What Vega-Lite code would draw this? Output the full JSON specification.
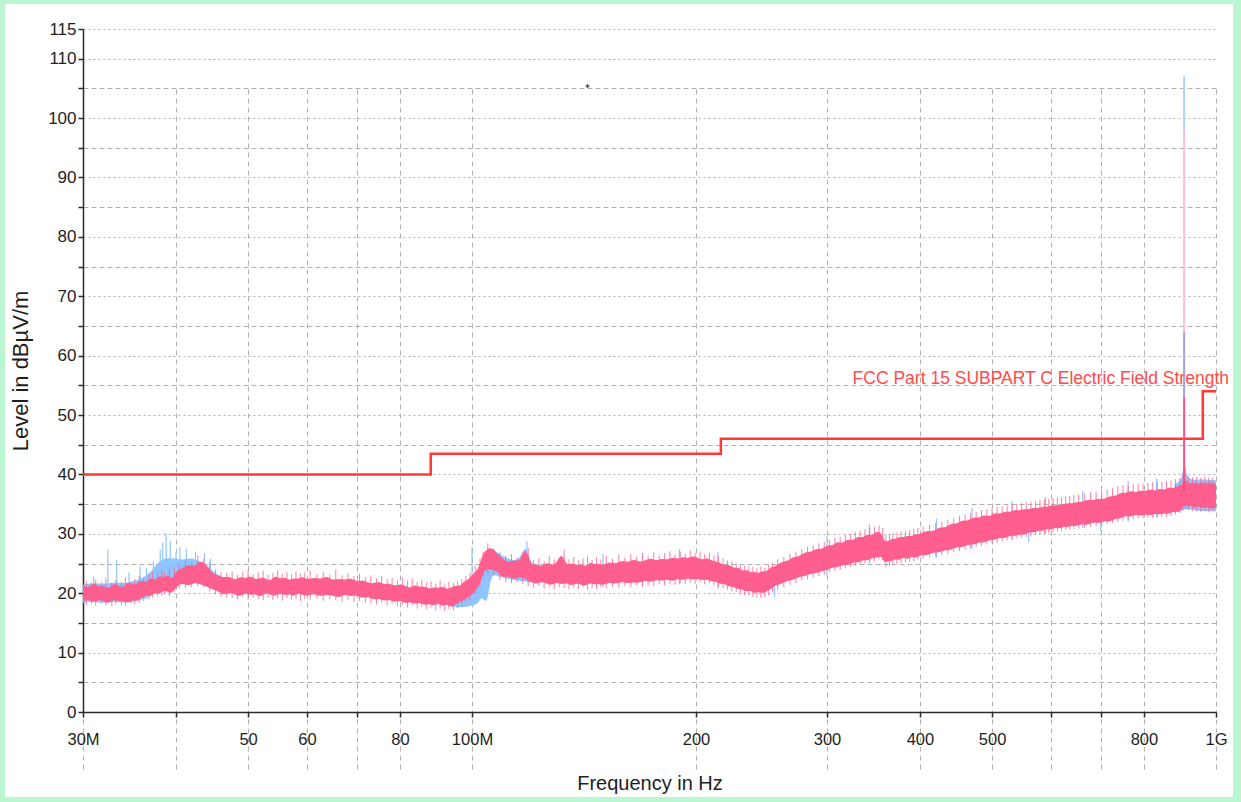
{
  "$schema": "https://vega.github.io/schema/vega-lite/v6.json",
  "width": 1228,
  "height": 793,
  "autosize": {"type": "none"},
  "padding": {"left": 5, "top": 4, "right": 8, "bottom": 5},
  "background": "#b9f6d1",
  "config": {
    "view": {"fill": "white", "stroke": null},
    "axis": {
      "labelFont": "Liberation Sans, Arial, sans-serif",
      "titleFont": "Liberation Sans, Arial, sans-serif",
      "labelColor": "#1e1e1e",
      "titleColor": "#1e1e1e",
      "titleFontWeight": "normal",
      "domainColor": "#2a2a2a",
      "domainWidth": 1.5,
      "tickColor": "#2a2a2a",
      "tickWidth": 1.5,
      "tickSize": 5,
      "gridColor": "#b0b0b0",
      "gridWidth": 1
    }
  },
  "datasets": {
    "pink": [
      {"f":30,"dB":18.6,"dB2":21.4},{"f":30.5,"dB":19.0,"dB2":20.8},{"f":31,"dB":18.4,"dB2":21.9},{"f":31.5,"dB":18.9,"dB2":21.0},
      {"f":32,"dB":18.7,"dB2":21.3},{"f":32.5,"dB":18.2,"dB2":20.7},{"f":33,"dB":19.1,"dB2":21.8},{"f":33.5,"dB":18.5,"dB2":21.2},
      {"f":34,"dB":18.8,"dB2":20.9},{"f":34.5,"dB":18.3,"dB2":22.1},{"f":35,"dB":19.0,"dB2":21.3},{"f":35.5,"dB":18.6,"dB2":21.7},
      {"f":36,"dB":19.3,"dB2":22.3},{"f":36.5,"dB":19.7,"dB2":21.6},{"f":37,"dB":19.4,"dB2":22.8},{"f":37.5,"dB":20.1,"dB2":22.0},
      {"f":38,"dB":19.8,"dB2":23.1},{"f":38.5,"dB":20.5,"dB2":22.5},{"f":39,"dB":20.2,"dB2":23.3},{"f":39.5,"dB":19.9,"dB2":22.1},
      {"f":40,"dB":21.0,"dB2":23.8},{"f":40.8,"dB":21.8,"dB2":24.2},{"f":41.6,"dB":21.1,"dB2":24.9},{"f":42.4,"dB":21.9,"dB2":24.4},
      {"f":43.2,"dB":21.5,"dB2":25.7},{"f":44.0,"dB":21.2,"dB2":24.6},{"f":44.8,"dB":20.6,"dB2":23.3},{"f":45.6,"dB":20.4,"dB2":23.0},
      {"f":46.4,"dB":19.6,"dB2":22.6},{"f":47.2,"dB":20.2,"dB2":22.9},{"f":48.0,"dB":19.8,"dB2":22.1},{"f":48.8,"dB":19.4,"dB2":22.9},
      {"f":49.6,"dB":20.1,"dB2":22.4},{"f":50.4,"dB":19.6,"dB2":23.0},{"f":51.2,"dB":19.9,"dB2":22.2},{"f":52.0,"dB":19.3,"dB2":22.7},
      {"f":52.8,"dB":20.1,"dB2":22.5},{"f":53.6,"dB":19.7,"dB2":22.0},{"f":54.4,"dB":19.5,"dB2":23.1},{"f":55.2,"dB":20.0,"dB2":22.3},
      {"f":56.0,"dB":19.6,"dB2":22.8},{"f":56.8,"dB":19.9,"dB2":22.1},{"f":57.6,"dB":19.4,"dB2":22.6},{"f":58.4,"dB":20.1,"dB2":22.3},
      {"f":59.2,"dB":19.7,"dB2":22.9},{"f":60.0,"dB":19.5,"dB2":22.2},{"f":61.25,"dB":20.0,"dB2":22.7},{"f":62.5,"dB":19.4,"dB2":22.3},
      {"f":63.75,"dB":19.8,"dB2":23.0},{"f":65,"dB":19.6,"dB2":22.1},{"f":66.25,"dB":19.2,"dB2":22.5},{"f":67.5,"dB":19.9,"dB2":22.2},
      {"f":68.75,"dB":19.4,"dB2":22.6},{"f":70,"dB":19.7,"dB2":21.9},{"f":71.25,"dB":19.1,"dB2":22.3},{"f":72.5,"dB":19.5,"dB2":21.8},
      {"f":73.75,"dB":18.8,"dB2":21.6},{"f":75,"dB":19.2,"dB2":22.0},{"f":76.25,"dB":18.6,"dB2":21.4},{"f":77.5,"dB":19.0,"dB2":21.7},
      {"f":78.75,"dB":18.4,"dB2":21.2},{"f":80,"dB":18.9,"dB2":21.6},{"f":81.25,"dB":18.2,"dB2":21.3},{"f":82.5,"dB":18.6,"dB2":20.8},
      {"f":83.75,"dB":18.1,"dB2":21.5},{"f":85,"dB":18.5,"dB2":21.0},{"f":86.25,"dB":17.9,"dB2":21.2},{"f":87.5,"dB":18.3,"dB2":20.7},
      {"f":88.75,"dB":17.8,"dB2":21.1},{"f":90,"dB":18.4,"dB2":20.8},{"f":91.25,"dB":17.7,"dB2":21.2},{"f":92.5,"dB":18.2,"dB2":20.6},
      {"f":93.75,"dB":17.6,"dB2":21.0},{"f":95,"dB":18.1,"dB2":21.3},{"f":96.25,"dB":18.5,"dB2":21.1},{"f":97.5,"dB":18.8,"dB2":22.0},
      {"f":98.75,"dB":19.4,"dB2":22.2},{"f":100,"dB":19.6,"dB2":23.1},{"f":102,"dB":21.1,"dB2":24.0},{"f":103,"dB":22.4,"dB2":26.0},
      {"f":104,"dB":24.1,"dB2":27.1},{"f":106,"dB":24.0,"dB2":27.9},{"f":108,"dB":23.8,"dB2":26.7},{"f":110,"dB":22.5,"dB2":25.8},
      {"f":112,"dB":23.0,"dB2":25.1},{"f":114,"dB":22.2,"dB2":25.7},{"f":116,"dB":22.8,"dB2":25.2},{"f":118,"dB":22.4,"dB2":28.1},
      {"f":120,"dB":21.9,"dB2":24.5},{"f":122,"dB":21.5,"dB2":25.0},{"f":124,"dB":22.0,"dB2":24.4},{"f":126,"dB":21.6,"dB2":25.3},
      {"f":128,"dB":21.3,"dB2":24.7},{"f":130,"dB":21.9,"dB2":25.0},{"f":132,"dB":21.4,"dB2":27.0},{"f":134,"dB":21.8,"dB2":24.5},
      {"f":136,"dB":21.2,"dB2":25.2},{"f":138,"dB":21.7,"dB2":24.6},{"f":140,"dB":21.5,"dB2":25.0},{"f":142,"dB":21.1,"dB2":24.4},
      {"f":144,"dB":21.8,"dB2":25.3},{"f":146,"dB":21.4,"dB2":24.8},{"f":148,"dB":21.6,"dB2":25.1},{"f":150,"dB":21.3,"dB2":24.6},
      {"f":153,"dB":21.9,"dB2":25.4},{"f":156,"dB":21.5,"dB2":24.9},{"f":159,"dB":22.0,"dB2":25.6},{"f":162,"dB":21.6,"dB2":25.1},
      {"f":165,"dB":21.9,"dB2":25.8},{"f":168,"dB":21.7,"dB2":25.2},{"f":171,"dB":22.2,"dB2":25.5},{"f":174,"dB":21.8,"dB2":26.0},
      {"f":177,"dB":22.3,"dB2":25.4},{"f":180,"dB":22.0,"dB2":25.9},{"f":183,"dB":22.4,"dB2":25.6},{"f":186,"dB":21.9,"dB2":26.1},
      {"f":189,"dB":22.5,"dB2":25.7},{"f":192,"dB":22.1,"dB2":26.2},{"f":195,"dB":22.6,"dB2":25.8},{"f":198,"dB":22.2,"dB2":26.3},
      {"f":201,"dB":22.5,"dB2":26.0},{"f":204,"dB":22.1,"dB2":25.6},{"f":207,"dB":22.4,"dB2":26.0},{"f":210,"dB":21.9,"dB2":25.5},
      {"f":213,"dB":22.0,"dB2":25.3},{"f":216,"dB":21.5,"dB2":25.1},{"f":219,"dB":21.6,"dB2":24.7},{"f":222,"dB":21.0,"dB2":24.8},
      {"f":225,"dB":21.1,"dB2":24.2},{"f":228,"dB":20.6,"dB2":24.4},{"f":231,"dB":20.7,"dB2":23.7},{"f":234,"dB":20.2,"dB2":24.0},
      {"f":237,"dB":20.5,"dB2":23.4},{"f":240,"dB":19.9,"dB2":23.7},{"f":243,"dB":20.3,"dB2":23.3},{"f":246,"dB":19.9,"dB2":23.8},
      {"f":249,"dB":20.4,"dB2":23.6},{"f":252,"dB":20.6,"dB2":24.5},{"f":255,"dB":21.3,"dB2":24.4},{"f":260,"dB":21.5,"dB2":25.3},
      {"f":265,"dB":22.1,"dB2":25.3},{"f":270,"dB":22.2,"dB2":26.2},{"f":275,"dB":22.8,"dB2":26.1},{"f":280,"dB":22.8,"dB2":27.0},
      {"f":285,"dB":23.3,"dB2":26.8},{"f":290,"dB":23.3,"dB2":27.6},{"f":295,"dB":23.8,"dB2":27.3},{"f":300,"dB":23.8,"dB2":28.2},
      {"f":305,"dB":24.4,"dB2":27.9},{"f":310,"dB":24.3,"dB2":28.8},{"f":315,"dB":24.8,"dB2":28.3},{"f":320,"dB":24.7,"dB2":29.2},
      {"f":325,"dB":25.2,"dB2":28.8},{"f":330,"dB":25.1,"dB2":29.6},{"f":335,"dB":25.6,"dB2":29.3},{"f":340,"dB":25.5,"dB2":30.0},
      {"f":345,"dB":26.0,"dB2":29.7},{"f":350,"dB":25.9,"dB2":30.5},{"f":355,"dB":26.4,"dB2":30.2},{"f":358,"dB":25.0,"dB2":28.8},
      {"f":362,"dB":25.5,"dB2":28.7},{"f":366,"dB":25.3,"dB2":29.2},{"f":370,"dB":25.8,"dB2":29.1},{"f":375,"dB":25.5,"dB2":29.5},
      {"f":380,"dB":26.1,"dB2":29.4},{"f":385,"dB":25.6,"dB2":29.7},{"f":390,"dB":26.3,"dB2":29.6},{"f":395,"dB":25.8,"dB2":30.0},
      {"f":400,"dB":26.5,"dB2":29.9},{"f":408,"dB":26.3,"dB2":30.6},{"f":416,"dB":26.9,"dB2":30.3},{"f":424,"dB":26.8,"dB2":31.2},
      {"f":432,"dB":27.3,"dB2":30.9},{"f":440,"dB":27.2,"dB2":31.8},{"f":448,"dB":27.8,"dB2":31.6},{"f":456,"dB":27.7,"dB2":32.4},
      {"f":464,"dB":28.2,"dB2":32.1},{"f":472,"dB":28.1,"dB2":32.9},{"f":480,"dB":28.6,"dB2":32.6},{"f":488,"dB":28.5,"dB2":33.3},
      {"f":496,"dB":29.0,"dB2":32.8},{"f":504,"dB":28.9,"dB2":33.6},{"f":512,"dB":29.4,"dB2":33.3},{"f":520,"dB":29.2,"dB2":33.8},
      {"f":528,"dB":29.7,"dB2":33.6},{"f":536,"dB":29.6,"dB2":34.1},{"f":544,"dB":29.9,"dB2":33.9},{"f":552,"dB":29.8,"dB2":34.2},
      {"f":560,"dB":30.3,"dB2":34.1},{"f":568,"dB":30.1,"dB2":34.4},{"f":576,"dB":30.6,"dB2":34.3},{"f":584,"dB":30.4,"dB2":34.6},
      {"f":592,"dB":30.9,"dB2":34.5},{"f":600,"dB":30.6,"dB2":34.8},{"f":608,"dB":31.1,"dB2":34.7},{"f":616,"dB":30.8,"dB2":35.0},
      {"f":624,"dB":31.3,"dB2":34.9},{"f":632,"dB":31.0,"dB2":35.2},{"f":640,"dB":31.5,"dB2":35.1},{"f":648,"dB":31.2,"dB2":35.4},
      {"f":660,"dB":31.7,"dB2":35.3},{"f":672,"dB":31.4,"dB2":35.8},{"f":684,"dB":32.0,"dB2":35.6},{"f":696,"dB":31.7,"dB2":36.0},
      {"f":708,"dB":32.2,"dB2":35.8},{"f":720,"dB":32.0,"dB2":36.4},{"f":732,"dB":32.6,"dB2":36.3},{"f":744,"dB":32.5,"dB2":37.0},
      {"f":756,"dB":33.1,"dB2":36.8},{"f":768,"dB":32.8,"dB2":37.3},{"f":780,"dB":33.3,"dB2":36.9},{"f":792,"dB":33.0,"dB2":37.4},
      {"f":804,"dB":33.3,"dB2":37.1},{"f":816,"dB":33.1,"dB2":37.6},{"f":828,"dB":33.4,"dB2":37.2},{"f":840,"dB":33.2,"dB2":37.7},
      {"f":852,"dB":33.5,"dB2":37.3},{"f":864,"dB":33.3,"dB2":37.9},{"f":876,"dB":33.8,"dB2":37.6},{"f":888,"dB":33.6,"dB2":38.2},
      {"f":900,"dB":34.1,"dB2":38.0},{"f":906,"dB":34.9,"dB2":39.6},{"f":912,"dB":34.6,"dB2":38.8},{"f":924,"dB":34.8,"dB2":38.4},
      {"f":936,"dB":34.3,"dB2":38.7},{"f":948,"dB":34.7,"dB2":38.3},{"f":960,"dB":34.2,"dB2":38.8},{"f":972,"dB":34.6,"dB2":38.4},
      {"f":984,"dB":34.1,"dB2":38.7},{"f":996,"dB":34.5,"dB2":38.3},{"f":1000,"dB":34.3,"dB2":38.5}
    ],
    "pinkspikes": [
      {"f":30.3,"dB":18.0,"dB2":22.0},{"f":30.8,"dB":18.2,"dB2":21.7},{"f":31.2,"dB":17.9,"dB2":22.3},{"f":31.8,"dB":18.3,"dB2":21.9},
      {"f":32.2,"dB":18.0,"dB2":22.6},{"f":32.8,"dB":17.8,"dB2":21.8},{"f":33.2,"dB":18.2,"dB2":22.2},{"f":33.8,"dB":18.0,"dB2":21.9},
      {"f":34.2,"dB":17.9,"dB2":22.7},{"f":34.8,"dB":18.2,"dB2":22.0},{"f":35.2,"dB":18.1,"dB2":22.4},{"f":35.7,"dB":18.4,"dB2":22.9},
      {"f":36.2,"dB":18.7,"dB2":22.6},{"f":36.8,"dB":19.0,"dB2":23.2},{"f":37.2,"dB":19.3,"dB2":23.5},{"f":37.8,"dB":19.5,"dB2":23.6},
      {"f":38.3,"dB":19.6,"dB2":24.0},{"f":38.6,"dB":19.8,"dB2":23.5},{"f":39.2,"dB":19.5,"dB2":24.1},{"f":39.8,"dB":20.3,"dB2":24.4},
      {"f":40.4,"dB":20.8,"dB2":25.0},{"f":41.2,"dB":20.9,"dB2":25.5},{"f":42.0,"dB":21.0,"dB2":25.2},{"f":42.8,"dB":21.2,"dB2":26.4},
      {"f":43.6,"dB":20.9,"dB2":25.8},{"f":44.4,"dB":20.3,"dB2":25.1},{"f":45.2,"dB":19.8,"dB2":24.0},{"f":46.0,"dB":19.4,"dB2":23.6},
      {"f":46.8,"dB":19.3,"dB2":23.4},{"f":47.6,"dB":19.2,"dB2":23.7},{"f":48.4,"dB":19.0,"dB2":23.1},{"f":49.2,"dB":19.3,"dB2":23.6},
      {"f":50.0,"dB":18.9,"dB2":23.9},{"f":50.8,"dB":19.2,"dB2":23.2},{"f":51.6,"dB":19.0,"dB2":23.5},{"f":52.4,"dB":18.8,"dB2":23.8},
      {"f":53.2,"dB":19.3,"dB2":23.1},{"f":54.0,"dB":18.9,"dB2":23.4},{"f":54.8,"dB":19.1,"dB2":23.9},{"f":55.6,"dB":18.8,"dB2":23.3},
      {"f":56.4,"dB":19.2,"dB2":23.6},{"f":57.2,"dB":18.9,"dB2":23.2},{"f":58.0,"dB":19.1,"dB2":23.7},{"f":58.8,"dB":18.7,"dB2":23.3},
      {"f":59.6,"dB":19.0,"dB2":23.5},{"f":60.6,"dB":18.9,"dB2":23.8},{"f":61.9,"dB":19.1,"dB2":23.2},{"f":63.1,"dB":18.7,"dB2":23.6},
      {"f":64.4,"dB":19.0,"dB2":23.1},{"f":65.6,"dB":18.8,"dB2":24.0},{"f":66.9,"dB":18.6,"dB2":23.0},{"f":68.1,"dB":18.9,"dB2":23.4},
      {"f":69.4,"dB":18.5,"dB2":22.9},{"f":70.6,"dB":18.7,"dB2":23.3},{"f":71.9,"dB":18.4,"dB2":22.7},{"f":73.1,"dB":18.3,"dB2":23.0},
      {"f":74.4,"dB":18.1,"dB2":22.5},{"f":75.6,"dB":18.4,"dB2":22.9},{"f":76.9,"dB":17.9,"dB2":22.4},{"f":78.1,"dB":18.2,"dB2":22.6},
      {"f":79.4,"dB":17.8,"dB2":22.2},{"f":80.6,"dB":18.0,"dB2":22.7},{"f":81.9,"dB":17.6,"dB2":22.1},{"f":83.1,"dB":17.9,"dB2":22.5},
      {"f":84.4,"dB":17.4,"dB2":21.9},{"f":85.6,"dB":17.7,"dB2":22.3},{"f":86.9,"dB":17.3,"dB2":21.8},{"f":88.1,"dB":17.6,"dB2":22.0},
      {"f":89.4,"dB":17.1,"dB2":21.6},{"f":90.6,"dB":17.4,"dB2":22.1},{"f":91.9,"dB":17.0,"dB2":21.5},{"f":93.1,"dB":17.3,"dB2":21.9},
      {"f":94.4,"dB":17.1,"dB2":21.7},{"f":95.6,"dB":17.5,"dB2":22.0},{"f":96.9,"dB":17.9,"dB2":22.4},{"f":98.1,"dB":18.4,"dB2":22.9},
      {"f":99.4,"dB":18.8,"dB2":23.5},{"f":101,"dB":19.8,"dB2":24.6},{"f":102.5,"dB":21.0,"dB2":25.9},{"f":103.5,"dB":22.8,"dB2":27.0},
      {"f":105,"dB":23.2,"dB2":28.4},{"f":107,"dB":23.0,"dB2":27.6},{"f":109,"dB":22.2,"dB2":26.9},{"f":111,"dB":21.9,"dB2":26.3},
      {"f":113,"dB":21.7,"dB2":26.6},{"f":115,"dB":21.9,"dB2":26.0},{"f":117,"dB":21.6,"dB2":26.8},{"f":119,"dB":21.2,"dB2":27.6},
      {"f":121,"dB":20.9,"dB2":25.6},{"f":123,"dB":21.2,"dB2":25.9},{"f":125,"dB":20.8,"dB2":25.4},{"f":127,"dB":21.1,"dB2":26.3},
      {"f":129,"dB":20.7,"dB2":25.7},{"f":131,"dB":21.0,"dB2":26.0},{"f":133,"dB":20.9,"dB2":27.3},{"f":135,"dB":20.6,"dB2":25.7},
      {"f":137,"dB":21.0,"dB2":26.1},{"f":139,"dB":20.7,"dB2":25.5},{"f":141,"dB":21.0,"dB2":25.9},{"f":143,"dB":20.6,"dB2":26.2},
      {"f":145,"dB":20.9,"dB2":25.6},{"f":147,"dB":20.7,"dB2":26.0},{"f":149,"dB":21.0,"dB2":25.7},{"f":151.5,"dB":20.8,"dB2":26.3},
      {"f":154.5,"dB":21.1,"dB2":25.8},{"f":157.5,"dB":20.9,"dB2":26.5},{"f":160.5,"dB":21.2,"dB2":26.0},{"f":163.5,"dB":20.9,"dB2":26.6},
      {"f":166.5,"dB":21.3,"dB2":26.1},{"f":169.5,"dB":21.1,"dB2":26.8},{"f":172.5,"dB":21.4,"dB2":26.2},{"f":175.5,"dB":21.2,"dB2":26.9},
      {"f":178.5,"dB":21.5,"dB2":26.4},{"f":181.5,"dB":21.3,"dB2":26.7},{"f":184.5,"dB":21.6,"dB2":27.1},{"f":187.5,"dB":21.4,"dB2":26.5},
      {"f":190.5,"dB":21.7,"dB2":27.0},{"f":193.5,"dB":21.5,"dB2":26.6},{"f":196.5,"dB":21.8,"dB2":27.2},{"f":199.5,"dB":21.6,"dB2":26.8},
      {"f":202.5,"dB":21.8,"dB2":27.0},{"f":205.5,"dB":21.5,"dB2":26.6},{"f":208.5,"dB":21.7,"dB2":26.8},{"f":211.5,"dB":21.3,"dB2":26.4},
      {"f":214.5,"dB":21.1,"dB2":26.2},{"f":217.5,"dB":20.9,"dB2":25.9},{"f":220.5,"dB":20.6,"dB2":25.5},{"f":223.5,"dB":20.3,"dB2":25.4},
      {"f":226.5,"dB":20.2,"dB2":25.0},{"f":229.5,"dB":19.9,"dB2":24.8},{"f":232.5,"dB":19.7,"dB2":24.6},{"f":235.5,"dB":19.6,"dB2":24.5},
      {"f":238.5,"dB":19.4,"dB2":24.4},{"f":241.5,"dB":19.3,"dB2":24.2},{"f":244.5,"dB":19.2,"dB2":24.5},{"f":247.5,"dB":19.3,"dB2":24.3},
      {"f":250.5,"dB":19.6,"dB2":24.8},{"f":253.5,"dB":20.1,"dB2":25.1},{"f":257.5,"dB":20.6,"dB2":25.7},{"f":262.5,"dB":21.0,"dB2":26.1},
      {"f":267.5,"dB":21.4,"dB2":26.6},{"f":272.5,"dB":21.7,"dB2":27.0},{"f":277.5,"dB":22.1,"dB2":27.4},{"f":282.5,"dB":22.3,"dB2":27.8},
      {"f":287.5,"dB":22.6,"dB2":28.1},{"f":292.5,"dB":22.9,"dB2":28.4},{"f":297.5,"dB":23.1,"dB2":28.7},{"f":302.5,"dB":23.5,"dB2":29.0},
      {"f":307.5,"dB":23.7,"dB2":29.3},{"f":312.5,"dB":23.9,"dB2":29.5},{"f":317.5,"dB":24.2,"dB2":29.8},{"f":322.5,"dB":24.4,"dB2":30.0},
      {"f":327.5,"dB":24.6,"dB2":30.3},{"f":332.5,"dB":24.9,"dB2":30.5},{"f":337.5,"dB":25.0,"dB2":30.8},{"f":342.5,"dB":25.3,"dB2":31.0},
      {"f":347.5,"dB":25.4,"dB2":31.2},{"f":352.5,"dB":25.7,"dB2":31.4},{"f":356.5,"dB":25.6,"dB2":31.0},{"f":360,"dB":24.4,"dB2":29.8},
      {"f":364,"dB":24.6,"dB2":29.9},{"f":368,"dB":24.8,"dB2":30.1},{"f":372.5,"dB":24.9,"dB2":30.3},{"f":377.5,"dB":25.1,"dB2":30.4},
      {"f":382.5,"dB":25.2,"dB2":30.5},{"f":387.5,"dB":25.3,"dB2":30.7},{"f":392.5,"dB":25.4,"dB2":30.8},{"f":397.5,"dB":25.6,"dB2":31.0},
      {"f":404,"dB":25.8,"dB2":31.2},{"f":412,"dB":26.0,"dB2":31.5},{"f":420,"dB":26.2,"dB2":31.8},{"f":428,"dB":26.4,"dB2":32.0},
      {"f":436,"dB":26.6,"dB2":32.4},{"f":444,"dB":26.9,"dB2":32.6},{"f":452,"dB":27.1,"dB2":33.0},{"f":460,"dB":27.3,"dB2":33.2},
      {"f":468,"dB":27.5,"dB2":33.5},{"f":476,"dB":27.8,"dB2":33.7},{"f":484,"dB":28.0,"dB2":34.0},{"f":492,"dB":28.2,"dB2":34.1},
      {"f":500,"dB":28.4,"dB2":34.3},{"f":508,"dB":28.5,"dB2":34.5},{"f":516,"dB":28.7,"dB2":34.6},{"f":524,"dB":28.9,"dB2":34.8},
      {"f":532,"dB":29.0,"dB2":35.0},{"f":540,"dB":29.2,"dB2":35.0},{"f":548,"dB":29.3,"dB2":35.2},{"f":556,"dB":29.5,"dB2":35.3},
      {"f":564,"dB":29.6,"dB2":35.4},{"f":572,"dB":29.8,"dB2":35.5},{"f":580,"dB":29.9,"dB2":35.7},{"f":588,"dB":30.0,"dB2":35.8},
      {"f":596,"dB":30.1,"dB2":35.9},{"f":604,"dB":30.3,"dB2":36.0},{"f":612,"dB":30.4,"dB2":36.1},{"f":620,"dB":30.5,"dB2":36.2},
      {"f":628,"dB":30.6,"dB2":36.3},{"f":636,"dB":30.7,"dB2":36.4},{"f":644,"dB":30.8,"dB2":36.5},{"f":654,"dB":30.9,"dB2":36.6},
      {"f":666,"dB":31.0,"dB2":36.8},{"f":678,"dB":31.2,"dB2":37.0},{"f":690,"dB":31.3,"dB2":37.1},{"f":702,"dB":31.4,"dB2":37.3},
      {"f":714,"dB":31.6,"dB2":37.5},{"f":726,"dB":31.8,"dB2":37.7},{"f":738,"dB":32.0,"dB2":38.0},{"f":750,"dB":32.2,"dB2":38.2},
      {"f":762,"dB":32.4,"dB2":38.3},{"f":774,"dB":32.5,"dB2":38.4},{"f":786,"dB":32.6,"dB2":38.5},{"f":798,"dB":32.6,"dB2":38.5},
      {"f":810,"dB":32.7,"dB2":38.6},{"f":822,"dB":32.7,"dB2":38.7},{"f":834,"dB":32.8,"dB2":38.7},{"f":846,"dB":32.8,"dB2":38.8},
      {"f":858,"dB":32.9,"dB2":38.9},{"f":870,"dB":33.0,"dB2":39.0},{"f":882,"dB":33.2,"dB2":39.2},{"f":894,"dB":33.5,"dB2":39.4},
      {"f":903,"dB":33.9,"dB2":40.2},{"f":909,"dB":34.1,"dB2":40.0},{"f":918,"dB":34.0,"dB2":39.6},{"f":930,"dB":33.9,"dB2":39.5},
      {"f":942,"dB":33.8,"dB2":39.6},{"f":954,"dB":33.7,"dB2":39.4},{"f":966,"dB":33.8,"dB2":39.6},{"f":978,"dB":33.6,"dB2":39.5},
      {"f":990,"dB":33.8,"dB2":39.4}
    ],
    "blue": [
      {"seg":"A","f":30,"dB":18.4,"dB2":21.4},{"seg":"A","f":31,"dB":18.6,"dB2":21.8},{"seg":"A","f":32,"dB":18.3,"dB2":21.5},
      {"seg":"A","f":33,"dB":18.6,"dB2":21.9},{"seg":"A","f":34,"dB":18.4,"dB2":21.6},{"seg":"A","f":35,"dB":18.5,"dB2":22.0},
      {"seg":"A","f":36,"dB":18.9,"dB2":22.5},{"seg":"A","f":37,"dB":19.5,"dB2":23.5},{"seg":"A","f":38,"dB":20.5,"dB2":25.5},
      {"seg":"A","f":39,"dB":21.3,"dB2":26.0},{"seg":"A","f":40,"dB":22.0,"dB2":25.8},{"seg":"A","f":41,"dB":22.1,"dB2":25.6},
      {"seg":"A","f":42,"dB":21.8,"dB2":26.0},{"seg":"A","f":43,"dB":21.6,"dB2":25.4},{"seg":"A","f":44,"dB":21.1,"dB2":24.8},
      {"seg":"A","f":45,"dB":20.6,"dB2":23.5},{"seg":"A","f":46,"dB":20.0,"dB2":22.8},{"seg":"A","f":47,"dB":19.9,"dB2":22.5},
      {"seg":"B","f":93,"dB":17.8,"dB2":20.8},{"seg":"B","f":96,"dB":17.6,"dB2":21.2},{"seg":"B","f":98,"dB":17.7,"dB2":21.6},
      {"seg":"B","f":100,"dB":17.9,"dB2":22.4},{"seg":"B","f":102,"dB":18.2,"dB2":23.6},{"seg":"B","f":103,"dB":19.5,"dB2":25.2},
      {"seg":"B","f":104,"dB":18.6,"dB2":26.3},{"seg":"B","f":105,"dB":18.7,"dB2":27.0},{"seg":"B","f":106,"dB":23.2,"dB2":27.6},
      {"seg":"B","f":108,"dB":23.0,"dB2":26.9},{"seg":"B","f":112,"dB":22.3,"dB2":25.6},{"seg":"B","f":116,"dB":22.1,"dB2":25.4},
      {"seg":"B","f":118,"dB":22.0,"dB2":28.6},{"seg":"B","f":120,"dB":21.8,"dB2":24.8},{"seg":"B","f":122,"dB":21.6,"dB2":24.9},
      {"seg":"C","f":880,"dB":33.6,"dB2":38.4},{"seg":"C","f":900,"dB":33.8,"dB2":38.8},{"seg":"C","f":906,"dB":34.2,"dB2":43.0},
      {"seg":"C","f":912,"dB":34.2,"dB2":39.6},{"seg":"C","f":930,"dB":34.0,"dB2":39.0},{"seg":"C","f":950,"dB":33.8,"dB2":39.2},
      {"seg":"C","f":1000,"dB":33.8,"dB2":39.0}
    ],
    "bluespikes": [
      {"f":31.0,"dB":19,"dB2":22.8},{"f":32.4,"dB":20,"dB2":27.3},{"f":33.3,"dB":20,"dB2":25.6},{"f":34.6,"dB":19,"dB2":23.5},
      {"f":35.8,"dB":20,"dB2":24.5},{"f":36.5,"dB":19,"dB2":24.2},{"f":37.3,"dB":21,"dB2":25.3},{"f":38.1,"dB":22,"dB2":27.3},
      {"f":38.4,"dB":22,"dB2":28.5},{"f":38.8,"dB":22,"dB2":30.1},{"f":39.3,"dB":22,"dB2":28.8},{"f":40.0,"dB":22,"dB2":27.0},
      {"f":40.5,"dB":23,"dB2":27.8},{"f":41.3,"dB":22,"dB2":27.5},{"f":42.5,"dB":23,"dB2":27.0},{"f":43.7,"dB":22,"dB2":26.8},
      {"f":44.5,"dB":21,"dB2":25.8},
      {"f":100,"dB":20,"dB2":27.8},{"f":118.5,"dB":24,"dB2":28.8},
      {"f":150,"dB":21.0,"dB2":26.6},{"f":190,"dB":21.5,"dB2":27.4},{"f":214,"dB":20.8,"dB2":26.9},{"f":255,"dB":19.4,"dB2":23.0},
      {"f":300,"dB":23.0,"dB2":29.6},{"f":342,"dB":25.0,"dB2":31.6},{"f":421,"dB":26.0,"dB2":32.6},{"f":470,"dB":27.5,"dB2":34.4},
      {"f":532,"dB":29.0,"dB2":35.5},{"f":560,"dB":28.6,"dB2":33.0},{"f":590,"dB":30.0,"dB2":36.2},{"f":662,"dB":31.0,"dB2":37.2},
      {"f":700,"dB":30.4,"dB2":34.0},{"f":762,"dB":32.0,"dB2":38.9},{"f":832,"dB":32.8,"dB2":39.3}
    ],
    "bigspike": [
      {"f":906,"dB":98,"dB2":107,"trace":"Peak"},
      {"f":906,"dB":64,"dB2":98,"trace":"QuasiPeak"},
      {"f":906,"dB":53,"dB2":64,"trace":"CAverage"},
      {"f":906,"dB":37,"dB2":53,"trace":"Average"}
    ],
    "limit": [
      {"f":30,"dB":40},{"f":88,"dB":43.5},{"f":216,"dB":46},{"f":960,"dB":54},{"f":1000,"dB":54}
    ],
    "limitlabel": [
      {"f":1000,"dB":56,"name":"FCC Part 15 SUBPART C Electric Field Strength"}
    ],
    "marker": [
      {"f":143,"dB":105.4}
    ]
  },
  "encoding": {
    "x": {
      "field": "f", "type": "quantitative",
      "scale": {"type": "log", "domain": [30, 1000], "range": [78, 1211], "nice": false},
      "axis": {
        "title": "Frequency in Hz",
        "orient": "bottom",
        "offset": -85,
        "values": [30, 40, 50, 60, 70, 80, 100, 200, 300, 400, 500, 600, 700, 800, 1000],
        "labelExpr": "datum.value == 30 ? '30M' : datum.value == 100 ? '100M' : datum.value == 1000 ? '1G' : (datum.value == 40 || datum.value == 70 || datum.value == 600 || datum.value == 700) ? '' : format(datum.value, 'd')",
        "labelFlush": false,
        "labelOverlap": false,
        "labelBound": false,
        "labelFontSize": 16.5,
        "labelPadding": 14,
        "titleFontSize": 20,
        "titlePadding": 26,
        "grid": true,
        "gridDash": [5, 4]
      }
    },
    "y": {
      "field": "dB", "type": "quantitative",
      "scale": {"domain": [0, 115], "range": [708, 25], "nice": false, "zero": false},
      "axis": {
        "title": "Level in dBµV/m",
        "orient": "left",
        "offset": -78,
        "values": [0, 5, 10, 15, 20, 25, 30, 35, 40, 45, 50, 55, 60, 65, 70, 75, 80, 85, 90, 95, 100, 105, 110, 115],
        "labelExpr": "(datum.value % 10 == 0 || datum.value == 115) ? format(datum.value, 'd') : ''",
        "labelOverlap": false,
        "labelBound": false,
        "labelFlush": false,
        "labelFontSize": 17,
        "labelPadding": 2,
        "titleFontSize": 22,
        "titlePadding": 15,
        "grid": true,
        "gridDash": {"condition": {"test": "datum.value % 10 == 0 || datum.value == 115", "value": [2, 3]}, "value": [5, 3]}
      }
    }
  },
  "layer": [
    {
      "data": {"name": "blue"},
      "mark": {"type": "area", "color": "#8fc5ff", "interpolate": "basis"},
      "encoding": {"y2": {"field": "dB2"}, "detail": {"field": "seg"}}
    },
    {
      "data": {"name": "bluespikes"},
      "mark": {"type": "rule", "color": "#8fc5ff", "strokeWidth": 1.2},
      "encoding": {"y2": {"field": "dB2"}}
    },
    {
      "data": {"name": "pink"},
      "mark": {"type": "area", "color": "#ff5f8e", "interpolate": "basis"},
      "encoding": {"y2": {"field": "dB2"}}
    },
    {
      "data": {"name": "pinkspikes"},
      "mark": {"type": "rule", "color": "#ff5f8e", "strokeWidth": 1, "opacity": 0.8},
      "encoding": {"y2": {"field": "dB2"}}
    },
    {
      "data": {"name": "limit"},
      "mark": {"type": "line", "interpolate": "step-after", "color": "#ff3838", "strokeWidth": 2.5},
      "encoding": {}
    },
    {
      "data": {"name": "bigspike"},
      "mark": {"type": "rule", "strokeWidth": 2},
      "encoding": {
        "y2": {"field": "dB2"},
        "color": {
          "field": "trace", "type": "nominal", "legend": null,
          "scale": {"domain": ["Peak", "QuasiPeak", "CAverage", "Average"], "range": ["#a9d2ff", "#ffbfd2", "#a99fe6", "#ff4f84"]}
        }
      }
    },
    {
      "data": {"name": "limitlabel"},
      "mark": {"type": "text", "align": "right", "baseline": "middle", "dx": 13, "fontSize": 17.5, "font": "Liberation Sans, Arial, sans-serif", "color": "#ff4b4b"},
      "encoding": {"text": {"field": "name"}}
    },
    {
      "data": {"name": "marker"},
      "mark": {"type": "point", "shape": "cross", "filled": true, "size": 14, "color": "#000000"},
      "encoding": {}
    }
  ]
}
